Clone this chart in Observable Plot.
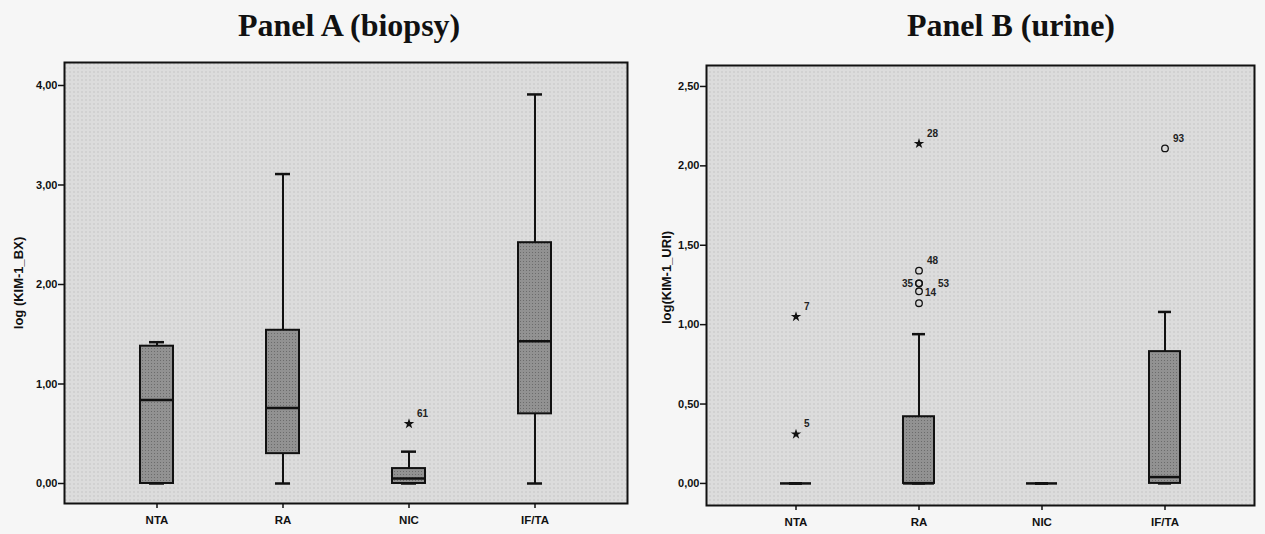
<!DOCTYPE html>
<html>
<head>
<meta charset="utf-8">
<script src="https://cdn.jsdelivr.net/npm/d3@7"></script>
<script src="https://cdn.jsdelivr.net/npm/@observablehq/plot@0.6"></script>
<style>
  html, body { margin: 0; padding: 0; background: #f6f6f6; }
  #wrap { position: relative; width: 1265px; height: 534px; overflow: hidden; }
  .panel { position: absolute; top: 0; }
  .title { height: 50px; line-height: 50px; font-family: "Liberation Serif", "Times New Roman", serif;
           font-weight: bold; font-size: 32px; color: #111; white-space: nowrap; }
  .panel svg { display: block; overflow: visible; }
</style>
</head>
<body>
<svg width="0" height="0" style="position:absolute">
  <defs>
    <pattern id="bgdots" width="4" height="4" patternUnits="userSpaceOnUse">
      <rect width="4" height="4" fill="#dcdcdc"></rect>
      <rect x="1" y="1" width="1" height="1" fill="#b0b0b0"></rect>
    </pattern>
    <pattern id="boxdots" width="3" height="3" patternUnits="userSpaceOnUse">
      <rect width="3" height="3" fill="#929292"></rect>
      <rect x="1" y="1" width="1" height="1" fill="#6c6c6c"></rect>
    </pattern>
  </defs>
</svg>
<div id="wrap">
  <div class="panel" id="panelA" style="left:0px;width:632px">
    <div class="title" style="padding-left:238px">Panel A (biopsy)</div>
  </div>
  <div class="panel" id="panelB" style="left:632px;width:633px">
    <div class="title" style="padding-left:275px">Panel B (urine)</div>
  </div>
</div>
<script>
// ---- categories ----
const groups = ["NTA", "RA", "NIC", "IF/TA"];

// ---- Panel A (biopsy): log(KIM-1_BX) ----
const bxLow    = [0.00, 0.00, 0.00, 0.00];
const bxQ1     = [0.00, 0.30, 0.00, 0.70];
const bxMedian = [0.84, 0.76, 0.05, 1.43];
const bxQ3     = [1.38, 1.54, 0.15, 2.42];
const bxHigh   = [1.42, 3.11, 0.32, 3.91];
const bxOutGroup = ["NIC"];
const bxOutValue = [0.60];
const bxOutId    = ["61"];
const bxOutKind  = ["extreme"];
const bxTicks = [0, 1, 2, 3, 4];

// ---- Panel B (urine): log(KIM-1_URI) ----
const uriLow    = [0.00, 0.00, 0.00, 0.00];
const uriQ1     = [0.00, 0.00, 0.00, 0.00];
const uriMedian = [0.00, 0.00, 0.00, 0.04];
const uriQ3     = [0.00, 0.42, 0.00, 0.83];
const uriHigh   = [0.00, 0.94, 0.00, 1.08];
const uriOutGroup = ["NTA", "NTA", "RA", "RA", "RA", "RA", "RA", "RA", "IF/TA"];
const uriOutValue = [1.05, 0.31, 2.14, 1.34, 1.26, 1.26, 1.21, 1.135, 2.11];
const uriOutId    = ["7", "5", "28", "48", "35", "53", "14", "", "93"];
const uriOutKind  = ["extreme", "extreme", "extreme", "mild", "mild", "mild", "mild", "mild", "mild"];
const uriTicks = [0, 0.5, 1, 1.5, 2, 2.5];

// label nudges (style, not data)
const nudge = { "35": {dx: -6, dy: 0, anchor: "end"}, "53": {dx: 19, dy: 0, anchor: "start"}, "14": {dx: 6, dy: 2, anchor: "start"} };

function boxTable(low, q1, med, q3, high) {
  return groups.map((g, i) => ({group: g, low: low[i], q1: q1[i], median: med[i], q3: q3[i], high: high[i]}));
}
function outTable(gs, vs, ids, kinds) {
  return gs.map((g, i) => ({group: g, value: vs[i], id: ids[i], kind: kinds[i]}));
}
const fmt = d => d.toFixed(2).replace(".", ",");

function panel({boxes, outs, ticks, domain, width, height, mt, mb, ml, mr, padIn, padOut, ylabel, labelDx, labelDy}) {
  const extremes = outs.filter(d => d.kind === "extreme");
  const milds = outs.filter(d => d.kind === "mild");
  const labels = outs.filter(d => d.id !== "");
  return Plot.plot({
    width, height,
    marginTop: mt, marginBottom: mb, marginLeft: ml, marginRight: mr,
    style: {background: "transparent", fontFamily: "'Liberation Sans', Arial, sans-serif", color: "#111"},
    x: {type: "band", domain: groups, paddingInner: padIn, paddingOuter: padOut, label: null},
    y: {domain, label: null},
    marks: [
      Plot.frame({fill: "url(#bgdots)", stroke: "none"}),
      // whiskers
      Plot.ruleX(boxes, {x: "group", y1: "q3", y2: "high", stroke: "#111", strokeWidth: 2}),
      Plot.ruleX(boxes, {x: "group", y1: "low", y2: "q1", stroke: "#111", strokeWidth: 2}),
      Plot.tickY(boxes, {x: "group", y: "high", stroke: "#111", strokeWidth: 2.5, insetLeft: 9, insetRight: 9}),
      Plot.tickY(boxes, {x: "group", y: "low", stroke: "#111", strokeWidth: 2.5, insetLeft: 9, insetRight: 9}),
      // boxes
      Plot.barY(boxes, {x: "group", y1: "q1", y2: "q3", fill: "url(#boxdots)", stroke: "#111", strokeWidth: 2}),
      Plot.tickY(boxes, {x: "group", y: "median", stroke: "#111", strokeWidth: 2.5}),
      // outliers
      Plot.dot(extremes, {x: "group", y: "value", symbol: "star", r: 3.3, fill: "#111", stroke: "none"}),
      Plot.dot(milds, {x: "group", y: "value", symbol: "circle", r: 3.3, fill: "none", stroke: "#111", strokeWidth: 1.3}),
      ...labels.map(d => {
        const n = nudge[d.id] || {dx: 8, dy: -10, anchor: "start"};
        return Plot.text([d], {x: "group", y: "value", text: "id", dx: n.dx, dy: n.dy, textAnchor: n.anchor,
                               fontSize: 10, fontWeight: "bold", fill: "#222"});
      }),
      // frame
      Plot.frame({stroke: "#111", strokeWidth: 2}),
      // axes
      Plot.axisY({ticks, tickFormat: fmt, tickSize: 6, tickPadding: 1, fontSize: 11, fontWeight: "bold", strokeWidth: 1.5, label: null}),
      Plot.axisX({tickSize: 5, tickPadding: 7, fontSize: 11.5, fontWeight: "bold", strokeWidth: 1.5, label: null}),
      Plot.text([ylabel], {frameAnchor: "left", rotate: -90, dx: labelDx, dy: labelDy, textAnchor: "middle", fontSize: 13, fontWeight: "bold", fill: "#111"})
    ]
  });
}

const chartA = panel({
  boxes: boxTable(bxLow, bxQ1, bxMedian, bxQ3, bxHigh),
  outs: outTable(bxOutGroup, bxOutValue, bxOutId, bxOutKind),
  ticks: bxTicks, domain: [-0.201, 4.231],
  width: 632, height: 484, mt: 12, mb: 31, ml: 64, mr: 5,
  padIn: 0.739, padOut: 0.597, ylabel: "log (KIM-1_BX)", labelDx: -46, labelDy: 0
});
document.getElementById("panelA").appendChild(chartA);

const chartB = panel({
  boxes: boxTable(uriLow, uriQ1, uriMedian, uriQ3, uriHigh),
  outs: outTable(uriOutGroup, uriOutValue, uriOutId, uriOutKind),
  ticks: uriTicks, domain: [-0.139, 2.632],
  width: 633, height: 484, mt: 15, mb: 29, ml: 74, mr: 11,
  padIn: 0.745, padOut: 0.589, ylabel: "log(KIM-1_URI)", labelDx: -40, labelDy: -8
});
document.getElementById("panelB").appendChild(chartB);
</script>
</body>
</html>
